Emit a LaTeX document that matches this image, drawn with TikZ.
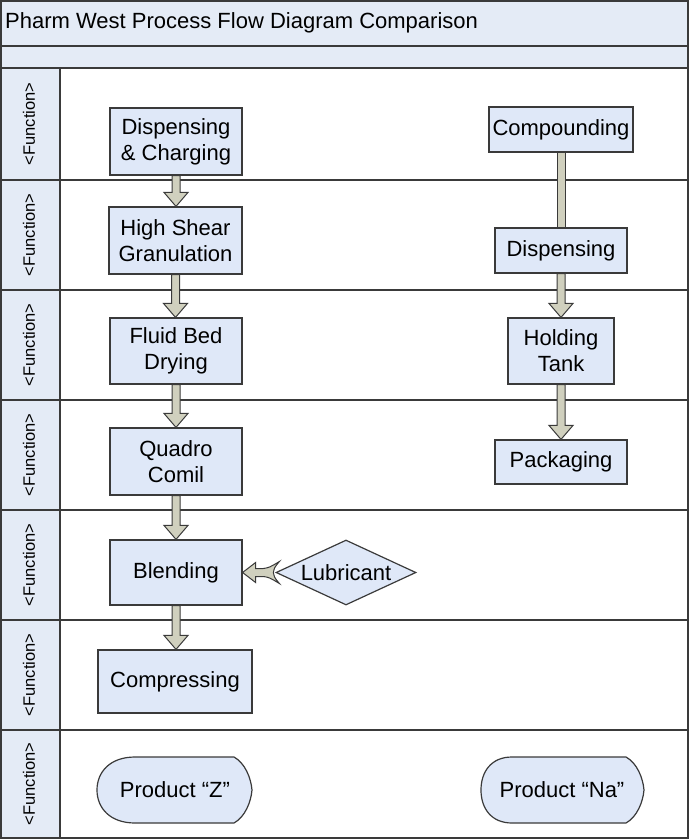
\documentclass[tikz,border=0pt]{standalone}
\usepackage{fontspec}
\setmainfont{Liberation Sans}
\usetikzlibrary{calc,shapes.geometric}

\definecolor{bandblue}{RGB}{228,235,246}
\definecolor{boxblue}{RGB}{223,232,248}
\definecolor{arrowgray}{RGB}{208,208,190}
\definecolor{edgegray}{RGB}{58,58,58}

\tikzset{
  procbox/.style={draw=edgegray, line width=1.2pt, fill=boxblue, align=center,
    inner sep=0pt, font=\fontsize{22}{26}\selectfont},
  decisionbox/.style={diamond, aspect=2.15, draw=edgegray, line width=1.2pt,
    fill=boxblue, inner sep=0pt, font=\fontsize{22}{26}\selectfont},
  prodtext/.style={inner sep=0pt, font=\fontsize{22}{26}\selectfont},
  prodshape/.style={draw=edgegray, line width=1.2pt, fill=boxblue},
  blockarrow/.style={draw=edgegray, line width=1pt, fill=arrowgray, line join=miter},
  lanelabel/.style={rotate=90, inner sep=0pt, font=\fontsize{16.5}{18}\selectfont},
  laneline/.style={draw=edgegray, line width=1.2pt},
}

% block arrow pointing down from the bottom of one node to the top of another
\newcommand\blockdown[2]{%
  \draw[blockarrow] let \p1=(#1.south), \p2=(#2.north) in
    (\x1-4pt,\y1) -- (\x1-4pt,\y2+14pt) -- (\x1-12pt,\y2+14pt) -- (\x1,\y2)
    -- (\x1+12pt,\y2+14pt) -- (\x1+4pt,\y2+14pt) -- (\x1+4pt,\y1) -- cycle;}
% plain thick shaft between two nodes
\newcommand\blockshaft[2]{%
  \draw[blockarrow] let \p1=(#1.south), \p2=(#2.north) in
    (\x1-4pt,\y1) rectangle (\x1+4pt,\y2);}

\begin{document}
\begin{tikzpicture}[x=1pt, y=-1pt]
\useasboundingbox (0,0) rectangle (689,839);

% header bands and lane label column
\fill[bandblue] (0,0) rectangle (689,68);
\fill[bandblue] (0,68) rectangle (60,839);
\node[anchor=west, inner sep=0pt, font=\fontsize{22}{26}\selectfont] (title) at (5,23)
  {Pharm West Process Flow Diagram Comparison};

% lane separators
\foreach \yy in {46,68,180,290,400,510,620,730}
  \draw[laneline] (0,\yy) -- (689,\yy);
\draw[laneline] (60,68) -- (60,839);
\draw[laneline] (1,1) rectangle (688,838);

% lane labels
\foreach \yy/\nm in {124/l1,235/l2,345/l3,455/l4,565/l5,675/l6,784/l7}
  \node[lanelabel] (\nm) at (29,\yy) {<Function>};

% left process chain
\node[procbox, minimum width=132pt, minimum height=67pt] (dc) at (176,141.5) {Dispensing\\\& Charging};
\node[procbox, minimum width=133pt, minimum height=67pt] (hs) at (175.5,240.5) {High Shear\\Granulation};
\node[procbox, minimum width=132pt, minimum height=66pt] (fb) at (176,351) {Fluid Bed\\Drying};
\node[procbox, minimum width=132pt, minimum height=67pt] (qc) at (176,461.5) {Quadro\\Comil};
\node[procbox, minimum width=132pt, minimum height=65pt] (bl) at (176,572.5) {Blending};
\node[procbox, minimum width=154pt, minimum height=63pt] (cp) at (175,681.5) {Compressing};
\node[decisionbox, minimum width=140pt, minimum height=65pt] (lub) at (346,572.5) {Lubricant};

% right process chain
\node[procbox, minimum width=144pt, minimum height=45pt] (co) at (561,129.5) {Compounding};
\node[procbox, minimum width=132pt, minimum height=45pt] (ds) at (561,250.5) {Dispensing};
\node[procbox, minimum width=106pt, minimum height=66pt] (ht) at (561,351) {Holding\\Tank};
\node[procbox, minimum width=132pt, minimum height=44pt] (pk) at (561,462) {Packaging};

% connectors
\blockdown{dc}{hs}
\blockdown{hs}{fb}
\blockdown{fb}{qc}
\blockdown{qc}{bl}
\blockdown{bl}{cp}
\blockshaft{co}{ds}
\blockdown{ds}{ht}
\blockdown{ht}{pk}

% lubricant feed into blending, swallow-tailed
\draw[blockarrow] let \p1=(bl.east), \p2=(lub.west) in
  (\x1,\y1) -- (\x1+13pt,\y1+10pt) -- (\x1+13pt,\y1+4pt) -- (\x2-12pt,\y1+4pt)
  .. controls (\x2-6pt,\y1+5pt) .. (\x2+4pt,\y1+11pt)
  .. controls (\x2-1pt,\y1+5pt) .. (\x2-2pt,\y1)
  .. controls (\x2-1pt,\y1-5pt) .. (\x2+4pt,\y1-11pt)
  .. controls (\x2-6pt,\y1-5pt) .. (\x2-12pt,\y1-4pt)
  -- (\x1+13pt,\y1-4pt) -- (\x1+13pt,\y1-10pt) -- cycle;

% end products: rounded left end, blunt-pointed right end
\draw[prodshape] (135,757) -- (234,757) .. controls (245,763) and (251,778) .. (252,790)
  .. controls (251,802) and (245,817) .. (234,823) -- (135,823)
  .. controls (110,823) and (97,808) .. (97,790) .. controls (97,772) and (110,757) .. (135,757) -- cycle;
\node[prodtext] (pz) at (175,790) {Product “Z”};
\draw[prodshape] (512,757) -- (626,757) .. controls (637,763) and (643,778) .. (644,790)
  .. controls (643,802) and (637,817) .. (626,823) -- (512,823)
  .. controls (491,823) and (481,808) .. (481,790) .. controls (481,772) and (491,757) .. (512,757) -- cycle;
\node[prodtext] (pn) at (562,790) {Product “Na”};
\end{tikzpicture}
\end{document}
